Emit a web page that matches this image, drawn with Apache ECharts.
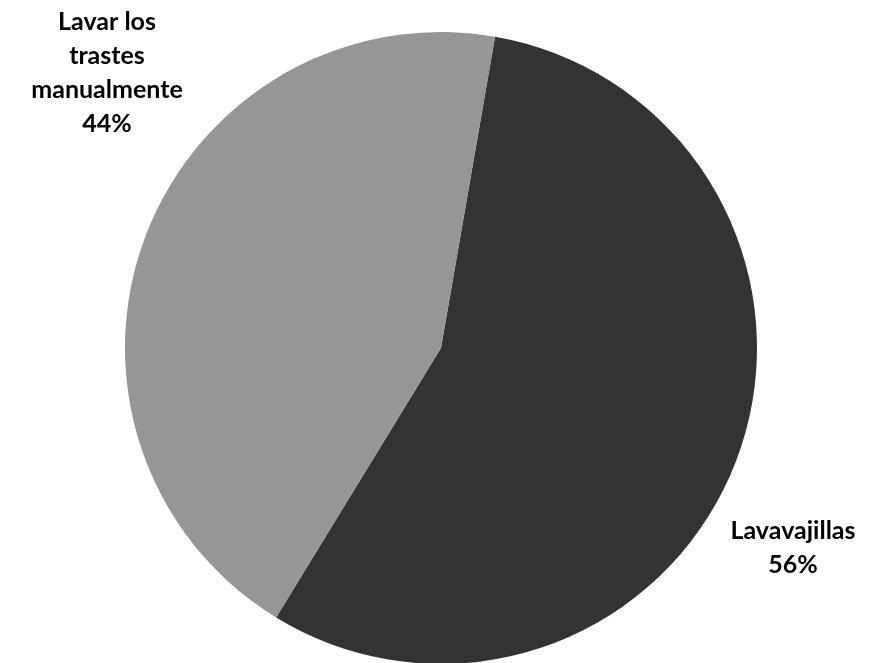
<!DOCTYPE html>
<html>
<head>
<meta charset="utf-8">
<style>
  html, body { margin: 0; padding: 0; background: #ffffff; }
  #chart { width: 883px; height: 663px; }
</style>
<script src="https://cdn.jsdelivr.net/npm/echarts@6/dist/echarts.min.js"></script>
</head>
<body>
<div id="chart"></div>
<script>
// Dishwashing method shares (percent)
const categories = ['Lavavajillas', 'Lavar los\ntrastes\nmanualmente'];
const shares = [56, 44];
const sliceColors = ['#333333', '#969696'];

// Label anchor points (px) for each slice's caption
const labelAnchors = [[793, 548], [107, 73]];

const chart = echarts.init(document.getElementById('chart'), null, { renderer: 'canvas' });

chart.setOption({
  backgroundColor: '#ffffff',
  animation: false,
  series: [{
    type: 'pie',
    center: [441, 348],
    radius: 316,
    startAngle: 80.15,
    clockwise: true,
    avoidLabelOverlap: false,
    data: categories.map((name, i) => ({
      name: name,
      value: shares[i],
      itemStyle: { color: sliceColors[i] }
    })),
    itemStyle: { borderWidth: 0 },
    emphasis: { disabled: true },
    label: {
      show: true,
      position: 'outside',
      formatter: '{b}\n{d}%',
      fontFamily: 'Lato',
      fontWeight: 'bold',
      fontSize: 25,
      lineHeight: 34,
      color: '#000000',
      align: 'center'
    },
    labelLine: { show: false },
    labelLayout: function (params) {
      const p = labelAnchors[params.dataIndex];
      return { x: p[0], y: p[1], align: 'center', verticalAlign: 'middle' };
    }
  }]
});
</script>
</body>
</html>
